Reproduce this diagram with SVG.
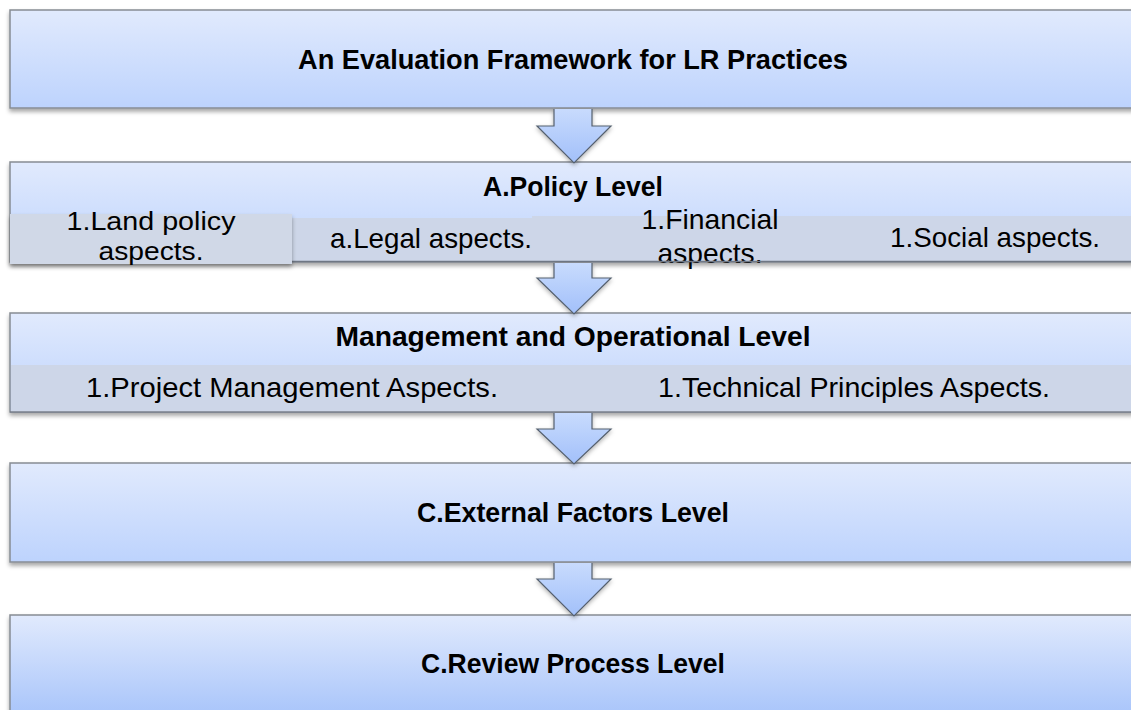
<svg xmlns="http://www.w3.org/2000/svg" width="1131" height="710" viewBox="0 0 1131 710">
<defs>
<linearGradient id="gBox" x1="0" y1="0" x2="0" y2="1">
<stop offset="0" stop-color="#e1eafd"/>
<stop offset="1" stop-color="#bdd3fd"/>
</linearGradient>
<linearGradient id="gBox5" x1="0" y1="0" x2="0" y2="1">
<stop offset="0" stop-color="#e1eafd"/>
<stop offset="1" stop-color="#a3c1fa"/>
</linearGradient>
<linearGradient id="gArrow" x1="0" y1="0" x2="0" y2="1">
<stop offset="0" stop-color="#c8dbfd"/>
<stop offset="1" stop-color="#a2c0fa"/>
</linearGradient>
<filter id="sh" x="-5%" y="-20%" width="110%" height="150%">
<feDropShadow dx="0" dy="3" stdDeviation="2" flood-color="#000" flood-opacity="0.35"/>
</filter>
<filter id="shA" x="-30%" y="-20%" width="160%" height="160%">
<feDropShadow dx="0" dy="2" stdDeviation="2" flood-color="#000" flood-opacity="0.3"/>
</filter>
</defs>
<style>
.box{stroke:#878c94;stroke-width:1.5;filter:url(#sh)}
.cell{fill:#cdd6e8}
.t{font-family:"Liberation Sans",Arial,sans-serif;font-size:28px;fill:#000;text-anchor:middle}
.s{font-size:26px}
.b{font-weight:bold}
.afill{fill:url(#gArrow);stroke:none}
.aline{fill:none;stroke:#55606e;stroke-width:1.2}
</style>
<rect width="1131" height="710" fill="#fff"/>

<g id="node-framework">
<rect class="box" x="10" y="10" width="1135" height="98" fill="url(#gBox)"/>
<text class="t b" x="573" y="69" textLength="550" lengthAdjust="spacingAndGlyphs">An Evaluation Framework for LR Practices</text>
</g>

<g id="node-policy">
<rect class="box" x="10" y="162" width="1135" height="100" fill="url(#gBox)"/>
<text class="t b" x="573" y="196" textLength="180" lengthAdjust="spacingAndGlyphs">A.Policy Level</text>
<rect class="cell" x="292" y="218" width="240" height="43"/>
<rect class="cell" x="532" y="216" width="323" height="45"/>
<rect class="cell" x="855" y="216" width="290" height="45"/>
<text class="t" x="431" y="248" textLength="202" lengthAdjust="spacingAndGlyphs">a.Legal aspects.</text>
<text class="t" x="710" y="229" textLength="137" lengthAdjust="spacingAndGlyphs">1.Financial</text>
<text class="t" x="710" y="263" textLength="105" lengthAdjust="spacingAndGlyphs">aspects.</text>
<text class="t" x="995" y="247" textLength="210" lengthAdjust="spacingAndGlyphs">1.Social aspects.</text>
<line x1="292" y1="261.5" x2="1131" y2="261.5" stroke="#6f7784" stroke-width="1.5"/>
<rect x="10" y="214" width="282" height="50" fill="#d0d8e7" filter="url(#sh)"/>
<text class="t s" x="151" y="230" textLength="169" lengthAdjust="spacingAndGlyphs">1.Land policy</text>
<text class="t s" x="151" y="260" textLength="105" lengthAdjust="spacingAndGlyphs">aspects.</text>
</g>

<g id="node-management">
<rect class="box" x="10" y="313" width="1135" height="99" fill="url(#gBox)"/>
<text class="t b" x="573" y="346" textLength="475" lengthAdjust="spacingAndGlyphs">Management and Operational Level</text>
<rect class="cell" x="11" y="365" width="1134" height="47"/>
<text class="t" x="292" y="397" textLength="412" lengthAdjust="spacingAndGlyphs">1.Project Management Aspects.</text>
<text class="t" x="854" y="397" textLength="392" lengthAdjust="spacingAndGlyphs">1.Technical Principles Aspects.</text>
<line x1="10" y1="412" x2="1131" y2="412" stroke="#7a818c" stroke-width="1.5"/>
</g>

<g id="node-external">
<rect class="box" x="10" y="463" width="1135" height="99" fill="url(#gBox)"/>
<text class="t b" x="573" y="522" textLength="312" lengthAdjust="spacingAndGlyphs">C.External Factors Level</text>
</g>

<g id="node-review">
<rect class="box" x="10" y="615" width="1135" height="110" fill="url(#gBox5)"/>
<text class="t b" x="573" y="673" textLength="304" lengthAdjust="spacingAndGlyphs">C.Review Process Level</text>
</g>

<g id="connectors">
<g filter="url(#shA)">
<path class="afill" d="M554,109 L554,126 L537,126 L574,163 L611,126 L592,126 L592,109 Z"/>
<path class="aline" d="M554,109 L554,126 L537,126 L574,163 L611,126 L592,126 L592,109"/>
</g>
<g filter="url(#shA)">
<path class="afill" d="M554,263 L554,278 L537,278 L574,314 L611,278 L592,278 L592,263 Z"/>
<path class="aline" d="M554,263 L554,278 L537,278 L574,314 L611,278 L592,278 L592,263"/>
</g>
<g filter="url(#shA)">
<path class="afill" d="M554,413 L554,429 L537,429 L574,464 L611,429 L592,429 L592,413 Z"/>
<path class="aline" d="M554,413 L554,429 L537,429 L574,464 L611,429 L592,429 L592,413"/>
</g>
<g filter="url(#shA)">
<path class="afill" d="M554,563 L554,579 L537,579 L574,616 L611,579 L592,579 L592,563 Z"/>
<path class="aline" d="M554,563 L554,579 L537,579 L574,616 L611,579 L592,579 L592,563"/>
</g>
</g>
</svg>
